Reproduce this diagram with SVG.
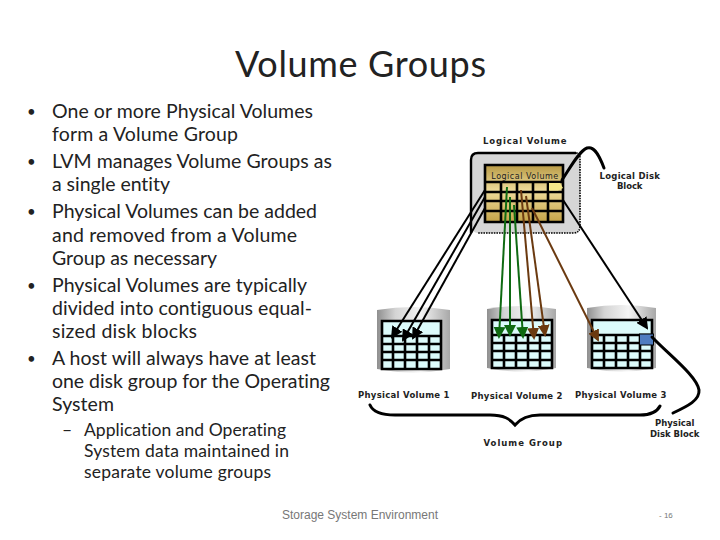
<svg xmlns="http://www.w3.org/2000/svg" width="720" height="540" viewBox="0 0 720 540">
<style>
.t{font-family:"Lato","Carlito","Liberation Sans",sans-serif;fill:#222;font-variant-ligatures:none}
.b{font-size:19.500px}
.s{font-size:17.500px}
.d{font-size:15px}
.l{font-family:"DejaVu Sans",sans-serif;font-size:8.500px;font-weight:bold;fill:#222;text-anchor:middle;letter-spacing:.5px}
.g{fill:none;stroke:#000;stroke-width:2.600}
.k{fill:none;stroke:#000;stroke-width:2}
.gr{fill:none;stroke:#0f6a12;stroke-width:2}
.br{fill:none;stroke:#6b3a10;stroke-width:2}
.c{fill:none;stroke:#000;stroke-width:3;stroke-linecap:round}
</style>
<defs>
<linearGradient id="cyl" x1="0" x2="1" y1="0" y2="0"><stop offset="0" stop-color="#8f8f8f"/><stop offset=".25" stop-color="#d4d4d4"/><stop offset=".6" stop-color="#f4f4f4"/><stop offset="1" stop-color="#a8a8a8"/></linearGradient>
<linearGradient id="gold" x1="0" x2="0" y1="0" y2="1"><stop offset="0" stop-color="#b89a45"/><stop offset=".45" stop-color="#eedb9a"/><stop offset="1" stop-color="#c4a348"/></linearGradient>
<marker id="ak" markerWidth="6" markerHeight="6" refX="5" refY="3" orient="auto"><path d="M0 0L6 3L0 6z" fill="#000"/></marker>
<marker id="ag" markerWidth="6" markerHeight="6" refX="5" refY="3" orient="auto"><path d="M0 0L6 3L0 6z" fill="#0f6a12"/></marker>
<marker id="ab" markerWidth="6" markerHeight="6" refX="5" refY="3" orient="auto"><path d="M0 0L6 3L0 6z" fill="#6b3a10"/></marker>
</defs>
<text class="t" x="235" y="77" font-size="36" textLength="251">Volume Groups</text>
<g id="bullets">
<text class="t d" x="27" y="117">•</text><text class="t b" x="52" y="118" textLength="261">One or more Physical Volumes</text>
<text class="t b" x="52" y="141" textLength="186">form a Volume Group</text>
<text class="t d" x="27" y="167">•</text><text class="t b" x="52" y="168" textLength="280">LVM manages Volume Groups as</text>
<text class="t b" x="52" y="191" textLength="118">a single entity</text>
<text class="t d" x="27" y="217">•</text><text class="t b" x="52" y="218" textLength="265">Physical Volumes can be added</text>
<text class="t b" x="52" y="242" textLength="245">and removed from a Volume</text>
<text class="t b" x="52" y="265" textLength="165">Group as necessary</text>
<text class="t d" x="27" y="291">•</text><text class="t b" x="52" y="292" textLength="255">Physical Volumes are typically</text>
<text class="t b" x="52" y="315" textLength="260">divided into contiguous equal-</text>
<text class="t b" x="52" y="338" textLength="145">sized disk blocks</text>
<text class="t d" x="27" y="364">•</text><text class="t b" x="52" y="365" textLength="264">A host will always have at least</text>
<text class="t b" x="52" y="388" textLength="278">one disk group for the Operating</text>
<text class="t b" x="52" y="411" textLength="62">System</text>
<text class="t s" x="62" y="436">–</text><text class="t s" x="84" y="436" textLength="202">Application and Operating</text>
<text class="t s" x="84" y="457" textLength="205">System data maintained in</text>
<text class="t s" x="84" y="478" textLength="187">separate volume groups</text>
</g>
<g id="logical-volume">
<rect x="471" y="153" width="109" height="80" rx="7" fill="#d6d6d6"/>
<path d="M471 233V160Q471 153 478 153H576" fill="none" stroke="#000" stroke-width="2.400"/>
<path d="M576 153Q580 153 580 158V226Q580 233 573 233H478" fill="none" stroke="#000" stroke-width="1.600" stroke-dasharray="1.600 1"/>
<rect x="485" y="165" width="78" height="57" fill="url(#gold)"/>
<path class="g" d="M485 165H563V222H485ZM485 182H563M485 192H563M485 201H563M485 211H563M501 182V222M517 182V222M533 182V222M548 182V222"/>
<path d="M549 183H560L563 188L558 190.500H549Z" fill="#f6e98a"/>
<text class="l" x="525" y="179" style="font-weight:normal;font-size:8px">Logical Volume</text>
<text class="l" x="525" y="144" textLength="84">Logical Volume</text>
</g>
<g id="physical-volume-1">
<path d="M377 310Q413 304 450 310V369Q413 376 377 369Z" fill="url(#cyl)"/>
<rect x="382" y="321" width="59" height="48" fill="#dcfbfb"/>
<path class="g" d="M382 321H441V369H382ZM382 336H441M382 344H441M382 352H441M382 360H441M393 336V369M405 336V369M417 336V369M429 336V369"/>
<text class="l" x="404" y="398" textLength="92">Physical Volume 1</text>
</g>
<g id="physical-volume-2">
<path d="M487 309Q521 303 556 309V368Q521 375 487 368Z" fill="url(#cyl)"/>
<rect x="492" y="320" width="60" height="48" fill="#dcfbfb"/>
<path class="g" d="M492 320H552V368H492ZM492 335H552M492 343H552M492 351H552M492 360H552M504 335V368M516 335V368M528 335V368M540 335V368"/>
<text class="l" x="517" y="399" textLength="92">Physical Volume 2</text>
</g>
<g id="physical-volume-3">
<path d="M587 308Q621 302 656 308V368Q621 375 587 368Z" fill="url(#cyl)"/>
<rect x="592" y="320" width="60" height="48" fill="#dcfbfb"/>
<path class="g" d="M592 320H652V368H592ZM592 335H652M592 343H652M592 351H652M592 360H652M604 335V368M616 335V368M628 335V368M640 335V368"/>
<rect x="639.500" y="334" width="14" height="11" fill="#4f7cc0" stroke="#000" stroke-width="1"/>
<text class="l" x="621" y="398" textLength="92">Physical Volume 3</text>
</g>
<g id="connectors">
<path class="k" marker-end="url(#ak)" d="M485 190L392 337"/>
<path class="k" marker-end="url(#ak)" d="M485 197L403 340"/>
<path class="k" marker-end="url(#ak)" d="M485 208L413 338"/>
<path class="gr" marker-end="url(#ag)" d="M507 187L499 337"/>
<path class="gr" marker-end="url(#ag)" d="M510 197L510 335"/>
<path class="gr" marker-end="url(#ag)" d="M514 205L523 337"/>
<path class="br" marker-end="url(#ab)" d="M521 190L534 338"/>
<path class="br" marker-end="url(#ab)" d="M526 196L545 335"/>
<path class="br" marker-end="url(#ab)" d="M532 208L598 340"/>
<path class="k" marker-end="url(#ak)" d="M563 200L647 328"/>
<path class="c" d="M604 168C598 152 593 146 587 148C579 151 570 168 562 180"/>
<path class="c" d="M673 413C688 406 700 400 699 390C697 376 668 354 652 337"/>
<path class="c" d="M370 405C373 412 382 415 395 415H490C504 415 510 419 515 425C520 419 527 415 540 415H640C650 415 657 412 660 406"/>
</g>
<g id="labels">
<text class="l" x="630" y="179" textLength="61">Logical Disk</text>
<text class="l" x="630" y="189" textLength="26">Block</text>
<text class="l" x="675" y="426" textLength="40">Physical</text>
<text class="l" x="675" y="437" textLength="50">Disk Block</text>
<text class="l" x="523" y="446" textLength="79">Volume Group</text>
</g>
<text x="282" y="519" font-family="Liberation Sans,sans-serif" font-size="12" fill="#777" textLength="156">Storage System Environment</text>
<text x="659" y="518" font-family="Liberation Sans,sans-serif" font-size="8" fill="#777">-  16</text>
</svg>
